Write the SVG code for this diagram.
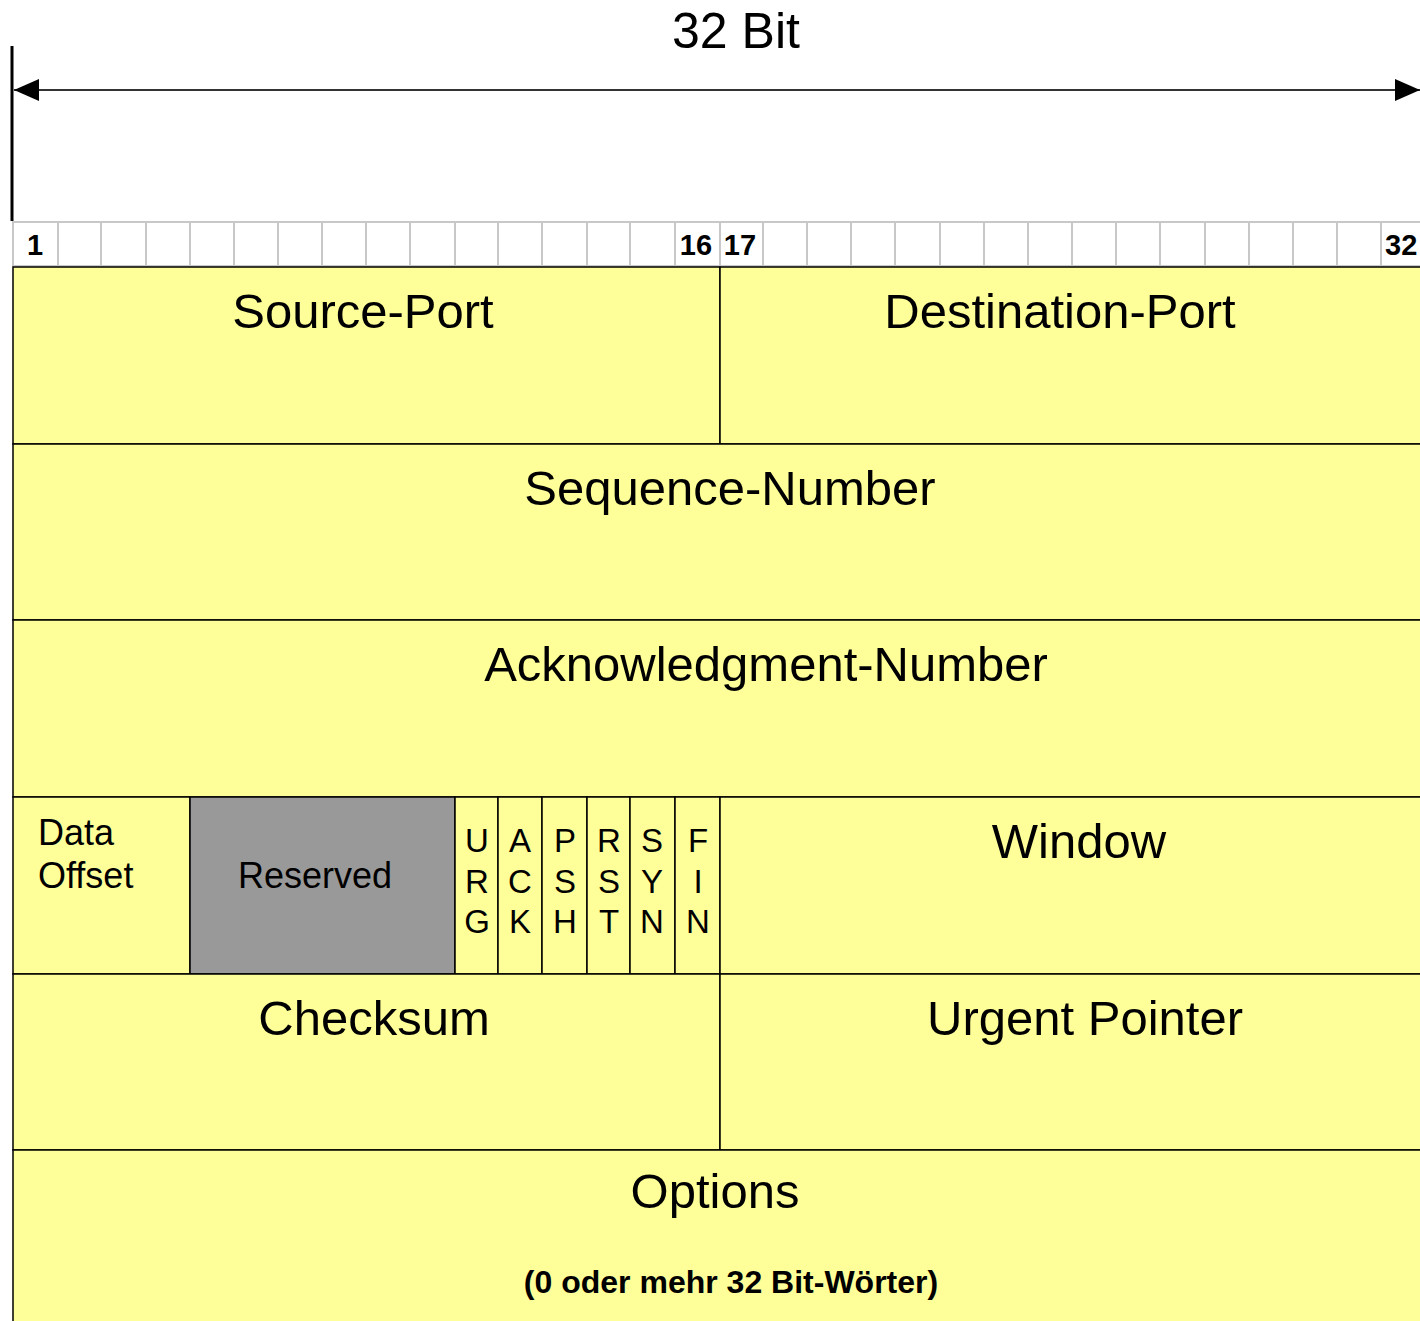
<svg xmlns="http://www.w3.org/2000/svg" width="1420" height="1321" viewBox="0 0 1420 1321">
<defs>
<style>
text{font-family:"Liberation Sans",Arial,sans-serif;fill:#000}
.big{font-size:49px;text-anchor:middle}
.num{font-size:29px;font-weight:bold}
.flag{font-size:33px;text-anchor:middle}
.cell{fill:#ffff99;stroke:#000;stroke-width:1.5}
.grid{stroke:#c8c8c8;stroke-width:2}
</style>
<marker id="ah" markerWidth="26" markerHeight="22" refX="25" refY="11" orient="auto-start-reverse" markerUnits="userSpaceOnUse">
<path d="M0,0 L25,11 L0,22 Z" fill="#000"/>
</marker>
</defs>
<rect width="1420" height="1321" fill="#fff"/>
<g id="header">
<text x="736" y="48" style="font-size:50px;text-anchor:middle">32 Bit</text>
<line x1="12" y1="46" x2="12" y2="221" stroke="#000" stroke-width="3"/>
</g>
<g id="connectors">
<line x1="14" y1="90" x2="1420" y2="90" stroke="#333" stroke-width="2" marker-start="url(#ah)" marker-end="url(#ah)"/>
</g>
<g id="ruler">
<rect x="13" y="222" width="1420" height="44" fill="#fff" stroke="#c8c8c8" stroke-width="2"/>
<g class="grid">
<line x1="58" y1="222" x2="58" y2="266"/><line x1="101" y1="222" x2="101" y2="266"/><line x1="146" y1="222" x2="146" y2="266"/><line x1="190" y1="222" x2="190" y2="266"/><line x1="234" y1="222" x2="234" y2="266"/><line x1="278" y1="222" x2="278" y2="266"/><line x1="322" y1="222" x2="322" y2="266"/><line x1="366" y1="222" x2="366" y2="266"/><line x1="410" y1="222" x2="410" y2="266"/><line x1="455" y1="222" x2="455" y2="266"/><line x1="498" y1="222" x2="498" y2="266"/><line x1="542" y1="222" x2="542" y2="266"/><line x1="587" y1="222" x2="587" y2="266"/><line x1="630" y1="222" x2="630" y2="266"/><line x1="675" y1="222" x2="675" y2="266"/><line x1="720" y1="222" x2="720" y2="266"/><line x1="763" y1="222" x2="763" y2="266"/><line x1="807" y1="222" x2="807" y2="266"/><line x1="851" y1="222" x2="851" y2="266"/><line x1="895" y1="222" x2="895" y2="266"/><line x1="940" y1="222" x2="940" y2="266"/><line x1="984" y1="222" x2="984" y2="266"/><line x1="1028" y1="222" x2="1028" y2="266"/><line x1="1072" y1="222" x2="1072" y2="266"/><line x1="1116" y1="222" x2="1116" y2="266"/><line x1="1160" y1="222" x2="1160" y2="266"/><line x1="1205" y1="222" x2="1205" y2="266"/><line x1="1249" y1="222" x2="1249" y2="266"/><line x1="1293" y1="222" x2="1293" y2="266"/><line x1="1337" y1="222" x2="1337" y2="266"/><line x1="1381" y1="222" x2="1381" y2="266"/>
</g>
<text class="num" x="35" y="255" text-anchor="middle">1</text>
<text class="num" x="696" y="255" text-anchor="middle">16</text>
<text class="num" x="740" y="255" text-anchor="middle">17</text>
<text class="num" x="1385" y="255">32</text>
</g>
<g id="source-port"><rect class="cell" x="13" y="267" width="707" height="177"/><text class="big" x="363" y="328">Source-Port</text></g>
<g id="destination-port"><rect class="cell" x="720" y="267" width="710" height="177"/><text class="big" x="1060" y="328">Destination-Port</text></g>
<g id="sequence-number"><rect class="cell" x="13" y="444" width="1417" height="176"/><text class="big" x="730" y="505">Sequence-Number</text></g>
<g id="ack-number"><rect class="cell" x="13" y="620" width="1417" height="177"/><text class="big" x="766" y="681">Acknowledgment-Number</text></g>
<g id="data-offset"><rect class="cell" x="13" y="797" width="177" height="177"/><text x="38" y="845" style="font-size:36px">Data</text><text x="38" y="888" style="font-size:36px">Offset</text></g>
<g id="reserved"><rect x="190" y="797" width="265" height="177" fill="#999" stroke="#000" stroke-width="1.5"/><text x="315" y="888" style="font-size:36px;text-anchor:middle">Reserved</text></g>
<g id="flag-urg"><rect class="cell" x="455" y="797" width="43" height="177"/><text class="flag" x="477" y="852">U</text><text class="flag" x="477" y="893">R</text><text class="flag" x="477" y="933">G</text></g>
<g id="flag-ack"><rect class="cell" x="498" y="797" width="44" height="177"/><text class="flag" x="520" y="852">A</text><text class="flag" x="520" y="893">C</text><text class="flag" x="520" y="933">K</text></g>
<g id="flag-psh"><rect class="cell" x="542" y="797" width="45" height="177"/><text class="flag" x="565" y="852">P</text><text class="flag" x="565" y="893">S</text><text class="flag" x="565" y="933">H</text></g>
<g id="flag-rst"><rect class="cell" x="587" y="797" width="43" height="177"/><text class="flag" x="609" y="852">R</text><text class="flag" x="609" y="893">S</text><text class="flag" x="609" y="933">T</text></g>
<g id="flag-syn"><rect class="cell" x="630" y="797" width="45" height="177"/><text class="flag" x="652" y="852">S</text><text class="flag" x="652" y="893">Y</text><text class="flag" x="652" y="933">N</text></g>
<g id="flag-fin"><rect class="cell" x="675" y="797" width="45" height="177"/><text class="flag" x="698" y="852">F</text><text class="flag" x="698" y="893">I</text><text class="flag" x="698" y="933">N</text></g>
<g id="window"><rect class="cell" x="720" y="797" width="710" height="177"/><text class="big" x="1079" y="858">Window</text></g>
<g id="checksum"><rect class="cell" x="13" y="974" width="707" height="176"/><text class="big" x="374" y="1035">Checksum</text></g>
<g id="urgent-pointer"><rect class="cell" x="720" y="974" width="710" height="176"/><text class="big" x="1085" y="1035">Urgent Pointer</text></g>
<g id="options"><rect class="cell" x="13" y="1150" width="1417" height="190"/><text class="big" x="715" y="1208">Options</text><text x="731" y="1293" style="font-size:32px;font-weight:bold;text-anchor:middle">(0 oder mehr 32 Bit-Wörter)</text></g>
</svg>
